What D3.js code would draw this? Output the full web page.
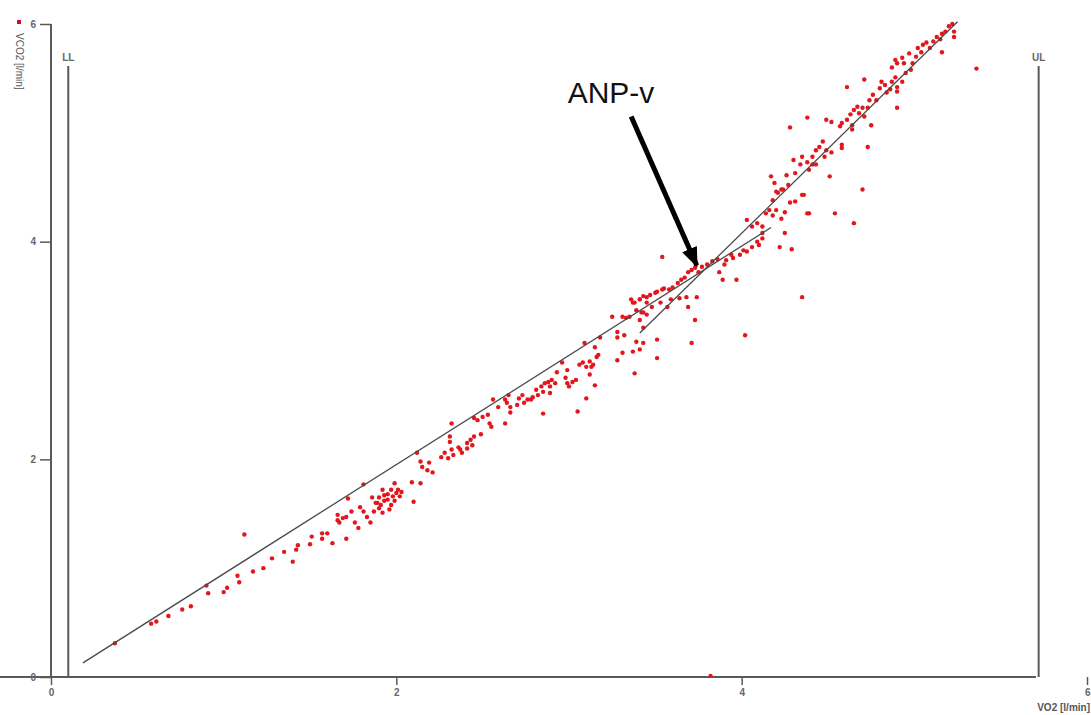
<!DOCTYPE html>
<html>
<head>
<meta charset="utf-8">
<script src="https://cdn.jsdelivr.net/npm/d3@7"></script>
<style>
  body { margin: 0; background: #fff; }
  svg { display: block; font-family: "Liberation Sans", Arial, sans-serif; }
</style>
</head>
<body>
<script>
"use strict";
// VO2 / VCO2 breath values [l/min]
const points = [
  [0.37,0.31],[0.58,0.49],[0.61,0.51],[0.68,0.56],[0.76,0.62],[0.81,0.65],[0.90,0.84],[0.91,0.77],
  [1.00,0.78],[1.02,0.82],[1.08,0.93],[1.09,0.87],[1.12,1.31],[1.17,0.97],[1.23,1.00],[1.28,1.09],
  [1.35,1.15],[1.40,1.06],[1.42,1.17],[1.43,1.21],[1.51,1.29],[1.50,1.22],[1.57,1.27],[1.60,1.32],
  [1.57,1.32],[1.63,1.23],[1.66,1.44],[1.66,1.49],[1.67,1.42],[1.69,1.46],[1.71,1.47],[1.72,1.64],
  [1.71,1.27],[1.74,1.52],[1.76,1.42],[1.78,1.37],[1.81,1.77],[1.79,1.56],[1.81,1.52],[1.83,1.47],
  [1.85,1.42],[1.86,1.65],[1.89,1.60],[1.90,1.55],[1.92,1.51],[1.92,1.72],[1.93,1.67],[1.95,1.63],
  [1.97,1.58],[1.97,1.72],[1.99,1.78],[2.00,1.69],[1.88,1.60],[1.90,1.65],[1.93,1.62],[1.95,1.68],
  [1.98,1.66],[2.01,1.72],[2.03,1.70],[1.87,1.52],[1.91,1.58],[1.96,1.54],[1.99,1.62],[2.02,1.66],
  [2.10,1.61],[2.09,1.79],[2.14,1.78],[2.12,2.06],[2.14,1.98],
  [2.15,1.93],[2.18,1.90],[2.19,1.97],[2.21,1.88],[2.26,2.02],[2.28,2.06],[2.30,2.01],[2.32,2.09],
  [2.33,2.04],[2.31,2.21],[2.31,2.16],[2.32,2.33],[2.36,2.11],[2.37,2.09],[2.38,2.06],[2.41,2.10],
  [2.41,2.15],[2.44,2.13],[2.43,2.18],[2.45,2.21],[2.49,2.23],[2.45,2.38],[2.47,2.36],[2.50,2.39],
  [2.53,2.41],[2.54,2.33],[2.55,2.30],[2.56,2.55],[2.59,2.48],[2.63,2.33],[2.63,2.55],[2.64,2.52],
  [2.65,2.59],[2.66,2.48],[2.66,2.43],[2.70,2.50],[2.71,2.56],[2.73,2.59],[2.74,2.52],[2.76,2.55],
  [2.78,2.55],[2.79,2.57],[2.81,2.64],[2.82,2.59],[2.84,2.67],[2.85,2.62],[2.86,2.70],[2.88,2.71],
  [2.89,2.67],[2.90,2.73],[2.89,2.61],[2.85,2.42],[2.92,2.70],[2.93,2.80],[2.96,2.89],[2.98,2.75],
  [2.99,2.70],[2.99,2.82],[3.00,2.67],[3.02,2.71],[3.04,2.73],[3.05,2.44],[3.06,2.87],[3.08,2.89],
  [3.10,2.85],[3.12,2.90],[3.13,2.85],[3.14,2.87],[3.16,2.94],[3.17,2.96],[3.09,3.07],[3.12,2.78],
  [3.15,2.68],[3.10,2.56],[3.15,3.03],[3.18,3.12],[3.25,3.31],[3.28,3.17],[3.28,3.12],[3.32,3.14],
  [3.31,3.31],[3.33,3.30],[3.28,2.91],[3.31,2.98],[3.38,2.79],[3.37,2.99],[3.39,3.08],[3.41,3.01],
  [3.43,3.07],[3.35,3.31],[3.37,3.44],[3.39,3.37],[3.41,3.47],[3.43,3.35],[3.45,3.44],[3.54,3.86],
  [3.36,3.47],[3.38,3.44],[3.41,3.47],[3.43,3.50],[3.45,3.49],[3.47,3.51],[3.50,3.53],[3.51,3.54],
  [3.54,3.56],[3.55,3.57],[3.58,3.56],[3.60,3.58],[3.63,3.62],[3.65,3.65],[3.67,3.67],[3.69,3.72],
  [3.71,3.74],[3.73,3.76],[3.75,3.72],[3.77,3.77],[3.80,3.79],[3.83,3.82],[3.86,3.84],[3.42,3.35],
  [3.45,3.33],[3.48,3.40],[3.53,3.44],[3.57,3.40],[3.59,3.47],[3.64,3.48],[3.68,3.49],[3.69,3.40],
  [3.74,3.49],[3.43,3.21],[3.41,3.28],[3.73,3.28],[3.71,3.07],[3.51,3.10],[3.51,2.93],[3.82,0.01],
  [3.87,3.72],[3.89,3.65],[3.97,3.65],[3.90,3.79],[3.95,3.85],[3.99,3.88],[4.03,3.91],[4.06,3.95],
  [4.09,4.00],[4.12,4.03],[3.91,3.83],[3.94,3.88],[4.01,3.92],[4.03,4.20],[4.06,4.14],[4.09,4.17],
  [4.12,4.14],[4.14,4.26],[4.16,4.29],[4.18,4.24],[4.23,4.21],[4.25,4.27],[4.28,4.36],[4.31,4.37],
  [4.38,4.26],[4.25,4.08],[4.22,3.95],[4.29,3.93],[4.10,3.97],[4.12,4.08],[4.02,3.14],[4.35,3.49],
  [4.20,4.29],[4.18,4.38],[4.20,4.46],[4.23,4.48],[4.27,4.52],[4.35,4.43],[4.36,4.43],[4.39,4.26],
  [4.54,4.26],[4.65,4.17],[4.70,4.48],[4.51,4.60],[4.19,4.54],[4.21,4.45],[4.24,4.48],[4.17,4.60],
  [4.26,4.61],[4.31,4.63],[4.30,4.75],[4.34,4.71],[4.35,4.78],[4.38,4.73],[4.39,4.66],[4.41,4.71],
  [4.43,4.84],[4.45,4.87],[4.47,4.92],[4.43,4.71],[4.41,4.78],[4.49,4.84],[4.52,4.82],[4.48,4.78],
  [4.28,5.05],[4.38,5.14],[4.49,5.12],[4.52,5.10],[4.58,4.89],[4.58,4.86],[4.57,5.06],[4.58,5.09],
  [4.61,5.12],[4.63,5.17],[4.64,5.07],[4.64,5.03],[4.65,5.21],[4.67,5.24],[4.68,5.18],[4.70,5.23],
  [4.71,5.15],[4.73,5.23],[4.74,5.30],[4.76,5.35],[4.75,5.07],[4.73,4.87],[4.71,5.49],[4.61,5.42],
  [4.78,5.30],[4.80,5.41],[4.81,5.47],[4.83,5.44],[4.84,5.37],[4.86,5.40],[4.87,5.47],[4.89,5.51],
  [4.90,5.42],[4.90,5.38],[4.93,5.47],[4.90,5.23],[4.87,5.60],[4.89,5.67],[4.90,5.64],[4.93,5.69],
  [4.94,5.64],[4.95,5.55],[4.98,5.58],[4.99,5.64],[5.01,5.70],[4.97,5.73],[5.02,5.78],[5.04,5.74],
  [5.05,5.81],[5.07,5.83],[5.09,5.78],[5.11,5.84],[5.13,5.88],[5.15,5.86],[5.16,5.91],[5.18,5.93],
  [5.20,5.98],[5.22,6.00],[5.16,5.74],[5.23,5.93],[5.23,5.88],[5.36,5.59]
];
// the two fitted lines (start / end)
const lineLow = [[0.185,0.13],[4.17,4.13]];
const lineHigh = [[3.41,3.16],[5.25,6.02]];
const xTicks = [0, 2, 4, 6];
const yTicks = [0, 2, 4, 6];
const limits = [{name: "LL", vo2: 0.10}, {name: "UL", vo2: 5.72}];
const arrowFrom = [3.36, 5.15], arrowTo = [3.74, 3.78];
const anpLabel = "ANP-v";

const W = 1091, H = 715;
const x = d3.scaleLinear().domain([0, 6]).range([51, 1087]);
const y = d3.scaleLinear().domain([0, 6]).range([677, 24]);

const svg = d3.select("body").append("svg").attr("width", W).attr("height", H);

const axisColor = "#5a5a5a";

// limit lines LL / UL
svg.selectAll(".lim").data(limits).enter().append("line")
  .attr("x1", d => x(d.vo2)).attr("x2", d => x(d.vo2))
  .attr("y1", y(0)).attr("y2", 66)
  .attr("stroke", axisColor).attr("stroke-width", 2);
svg.selectAll(".limtxt").data(limits).enter().append("text")
  .attr("x", d => x(d.vo2)).attr("y", 61)
  .attr("text-anchor", "middle").attr("font-size", 10).attr("font-weight", "bold")
  .attr("fill", "#666").text(d => d.name);

// axes
const xAxis = d3.axisBottom(x).tickValues(xTicks).tickSize(8).tickPadding(4).tickFormat(d3.format("d"));
const yAxis = d3.axisLeft(y).tickValues(yTicks).tickSize(11).tickPadding(4).tickFormat(d3.format("d"));
const gx = svg.append("g").attr("transform", `translate(0,${y(0)})`).call(xAxis);
const gy = svg.append("g").attr("transform", `translate(${x(0)},0)`).call(yAxis);
[gx, gy].forEach(g => {
  g.select(".domain").attr("stroke", axisColor).attr("stroke-width", 2);
  g.selectAll(".tick line").attr("stroke", axisColor).attr("stroke-width", 1.5);
  g.selectAll(".tick text").attr("fill", "#666").attr("font-size", 10).attr("font-weight", "bold")
    .attr("font-family", "Liberation Sans, Arial, sans-serif");
});
gy.select(".domain").attr("d", `M0,${y(6)}V${y(0)}`);
gx.select(".domain").attr("d", `M0,0H${x(6) - x(0)}`);
// last x label sits flush against the right edge
gx.selectAll(".tick text").filter(d => d === 6).attr("text-anchor", "end").attr("dx", 3);

// axis titles
svg.append("text").attr("x", 1090).attr("y", 711).attr("text-anchor", "end")
  .attr("font-size", 10).attr("font-weight", "bold").attr("fill", "#555").text("VO2 [l/min]");
svg.append("rect").attr("x", 17).attr("y", 20).attr("width", 4).attr("height", 4).attr("fill", "#c8102e");
svg.append("text").attr("transform", "translate(16,33) rotate(90)")
  .attr("font-size", 10).attr("fill", "#555").text("VCO2 [l/min]");

// points
svg.append("g").selectAll("circle").data(points).enter().append("circle")
  .attr("cx", d => x(d[0])).attr("cy", d => y(d[1])).attr("r", 2.2)
  .attr("fill", "#e3161b");

// fitted lines
const line = d3.line().x(d => x(d[0])).y(d => y(d[1]));
[lineLow, lineHigh].forEach(l => {
  svg.append("path").attr("d", line(l)).attr("fill", "none")
    .attr("stroke", "#4a4a4a").attr("stroke-width", 1.3);
});

// annotation arrow
svg.append("defs").append("marker").attr("id", "head")
  .attr("markerUnits", "userSpaceOnUse").attr("markerWidth", 20).attr("markerHeight", 20)
  .attr("viewBox", "0 0 20 20").attr("refX", 18).attr("refY", 10).attr("orient", "auto")
  .append("path").attr("d", "M0,2L20,10L0,18Z").attr("fill", "#000");
svg.append("line")
  .attr("x1", x(arrowFrom[0])).attr("y1", y(arrowFrom[1]))
  .attr("x2", x(arrowTo[0])).attr("y2", y(arrowTo[1]))
  .attr("stroke", "#000").attr("stroke-width", 5).attr("marker-end", "url(#head)");
svg.append("text").attr("x", 611).attr("y", 103).attr("text-anchor", "middle")
  .attr("font-size", 30).attr("fill", "#111").text(anpLabel);
</script>
</body>
</html>
